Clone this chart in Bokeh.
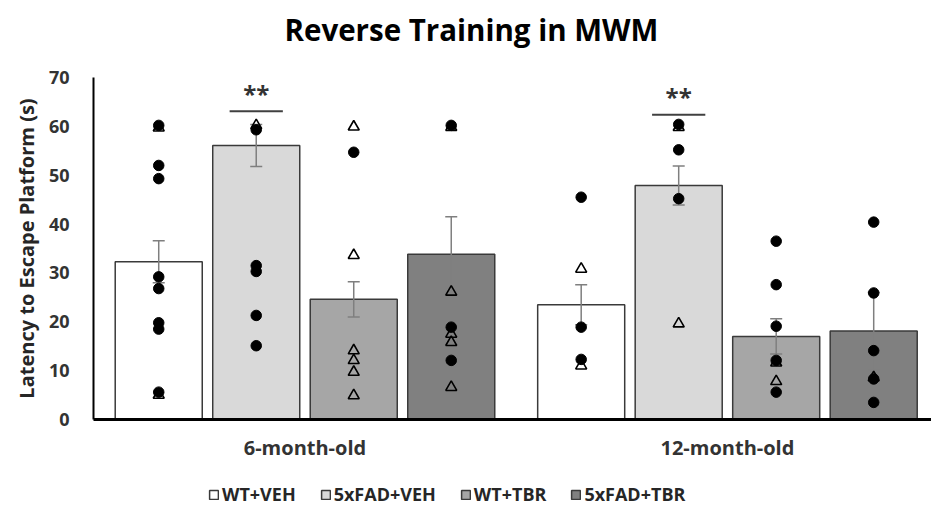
from bokeh.plotting import figure
from bokeh.layouts import column
from bokeh.models import Range1d, FixedTicker, Legend, LegendItem, ColumnDataSource, Title
from bokeh.embed import file_html
from bokeh.resources import INLINE
from bokeh.core.properties import value

# ---------------- data ----------------
ages = ["6-month-old", "12-month-old"]
groups = ["WT+VEH", "5xFAD+VEH", "WT+TBR", "5xFAD+TBR"]
bar_colors = ["#ffffff", "#d9d9d9", "#a6a6a6", "#808080"]

means_6 = [32.3, 56.1, 24.6, 33.8]
sem_6 = [4.3, 4.3, 3.6, 7.7]
means_12 = [23.5, 47.9, 17.0, 18.1]
sem_12 = [4.1, 4.0, 3.6, 7.9]

# individual animals (filled circles / open triangles), per group
circles_6 = [
    [60.2, 52.0, 49.3, 29.2, 26.8, 19.8, 18.5, 5.6],
    [59.3, 31.5, 30.3, 21.3, 15.1],
    [54.7],
    [60.2, 18.9, 12.1],
]
triangles_6 = [
    [59.7, 5.0],
    [60.2],
    [59.9, 33.6, 14.1, 12.1, 9.7, 4.9],
    [59.8, 26.1, 17.5, 15.8, 6.6],
]
circles_12 = [
    [45.5, 18.9, 12.3],
    [60.4, 55.2, 45.2],
    [36.5, 27.6, 19.1, 12.1, 5.6],
    [40.4, 25.9, 14.1, 8.3, 3.5],
]
triangles_12 = [
    [30.8, 11.0],
    [59.8, 19.6],
    [11.6, 7.8],
    [8.6],
]

sig_age = [0, 1]
sig_group = [1, 1]
sig_y = [63.1, 62.4]
sig_text = ["**", "**"]

# ---------------- layout helpers ----------------
STEP = 0.2308
BAR_W = 0.206


def xpos(age_i, grp_i):
    return age_i + (grp_i - 1.5) * STEP


FONT = "Open Sans"

p = figure(width=931, height=470, output_backend="svg", toolbar_location=None,
           x_range=Range1d(-0.5006, 1.483), y_range=Range1d(0, 70),
           min_border_left=93, min_border_right=0, min_border_top=77,
           min_border_bottom=51, title=None)

# spacer between the chart title and the plot area
p.add_layout(Title(text=" ", text_font_size="1px", standoff=21), "above")
p.add_layout(Title(text="Reverse Training in MWM", align="left", offset=191,
                   text_font=FONT, text_font_size="29.5px", text_font_style="bold",
                   text_color="#000000", standoff=8), "above")

p.xgrid.grid_line_color = None
p.ygrid.grid_line_color = None
p.outline_line_color = None

# bars
bx, btop, bcol, bup, blo = [], [], [], [], []
for ai, (m, s) in enumerate([(means_6, sem_6), (means_12, sem_12)]):
    for gi in range(4):
        bx.append(xpos(ai, gi))
        btop.append(m[gi])
        bcol.append(bar_colors[gi])
        bup.append(m[gi] + s[gi])
        blo.append(m[gi] - s[gi])
src = ColumnDataSource(dict(x=bx, top=btop, color=bcol, up=bup, lo=blo))
bars = p.vbar(x="x", top="top", width=BAR_W, fill_color="color", line_color="#3a3a3a",
              line_width=1.5, source=src)

# error bars
p.segment(x0="x", x1="x", y0="lo", y1="up", line_color="#7f7f7f", line_width=1.5, source=src)
p.scatter(x="x", y="up", marker="dash", size=12, line_color="#7f7f7f", line_width=1.5, source=src)
p.scatter(x="x", y="lo", marker="dash", size=12, line_color="#7f7f7f", line_width=1.5, source=src)

# points
tx, ty, cx, cy = [], [], [], []
for ai, (cl, tl) in enumerate([(circles_6, triangles_6), (circles_12, triangles_12)]):
    for gi in range(4):
        for v in tl[gi]:
            tx.append(xpos(ai, gi)); ty.append(v)
        for v in cl[gi]:
            cx.append(xpos(ai, gi)); cy.append(v)
p.scatter(tx, ty, marker="triangle", size=11, fill_alpha=0, line_color="black", line_width=1.6)
p.scatter(cx, cy, marker="circle", size=10.5, fill_color="black", line_color="black")

# significance
sx = [xpos(a, g) for a, g in zip(sig_age, sig_group)]
p.segment(x0=[x - 0.063 for x in sx], x1=[x + 0.063 for x in sx], y0=sig_y, y1=sig_y,
          line_color="#404040", line_width=2)
p.text(x=sx, y=[y + 0.3 for y in sig_y], text=sig_text, text_align="center",
       text_baseline="bottom", text_font=value(FONT), text_font_style="bold",
       text_font_size="24px", text_color="#333333")

# axes
p.yaxis.ticker = FixedTicker(ticks=list(range(0, 71, 10)))
p.yaxis.axis_label = "Latency to Escape Platform (s)"
p.yaxis.axis_label_text_font = FONT
p.yaxis.axis_label_text_font_style = "bold"
p.yaxis.axis_label_text_font_size = "20px"
p.yaxis.axis_label_text_color = "#262626"
p.yaxis.axis_label_standoff = 6
p.yaxis.major_label_text_font = FONT
p.yaxis.major_label_text_font_style = "bold"
p.yaxis.major_label_text_font_size = "18px"
p.yaxis.major_label_text_color = "#333333"
p.yaxis.major_label_standoff = 18
p.yaxis.axis_line_width = 2
p.yaxis.axis_line_color = "black"
p.yaxis.major_tick_line_color = None
p.yaxis.minor_tick_line_color = None

p.xaxis.ticker = FixedTicker(ticks=[0, 1])
p.xaxis.major_label_overrides = {0: ages[0], 1: ages[1]}
p.xaxis.major_label_text_font = FONT
p.xaxis.major_label_text_font_style = "bold"
p.xaxis.major_label_text_font_size = "20px"
p.xaxis.major_label_text_color = "#333333"
p.xaxis.major_label_standoff = 8
p.xaxis.axis_line_width = 3
p.xaxis.axis_line_color = "black"
p.xaxis.major_tick_line_color = None
p.xaxis.minor_tick_line_color = None

# legend strip (separate figure below the chart; its swatches use the same
# group colours, the bars themselves have no position so nothing is drawn)
lg = figure(width=931, height=38, output_backend="svg", toolbar_location=None,
            x_range=Range1d(0, 1), y_range=Range1d(0, 1),
            x_axis_location=None, y_axis_location=None,
            min_border_left=0, min_border_right=0, min_border_top=0, min_border_bottom=0)
lg.xgrid.grid_line_color = None
lg.ygrid.grid_line_color = None
lg.outline_line_color = None
nan = float("nan")
lsrc = ColumnDataSource(dict(x=[nan] * len(groups), top=[nan] * len(groups),
                             color=bar_colors))
lbars = lg.vbar(x="x", top="top", width=0.5, fill_color="color",
                line_color="#3a3a3a", line_width=1.5, source=lsrc)
items = [LegendItem(label=g, renderers=[lbars], index=i) for i, g in enumerate(groups)]
legend = Legend(items=items, orientation="horizontal", location=(115, 2),
                glyph_width=11, glyph_height=11, label_standoff=3, spacing=24,
                padding=0, margin=0, border_line_color=None, background_fill_alpha=0,
                label_text_font=FONT, label_text_font_style="bold",
                label_text_font_size="18px", label_text_color="#262626",
                label_height=16)
lg.add_layout(legend)

layout = column(p, lg, spacing=0)
open("out.html", "w").write(file_html(layout, INLINE))
